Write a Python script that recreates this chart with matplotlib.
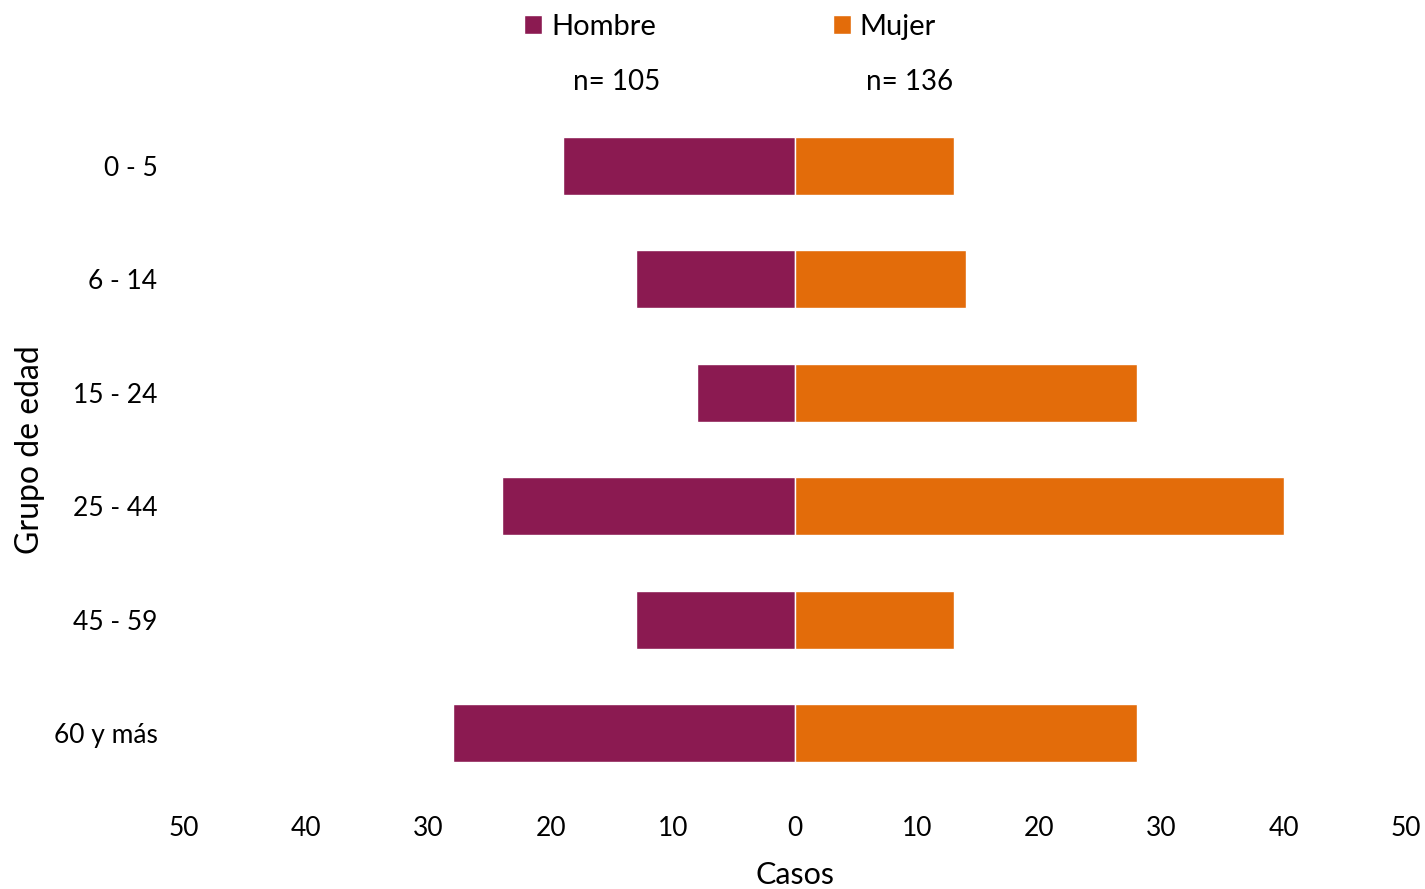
import matplotlib
matplotlib.use("Agg")
import matplotlib.pyplot as plt
from matplotlib.ticker import FuncFormatter

plt.rcParams['font.family'] = ['Lato', 'DejaVu Sans']

grupos = ["0 - 5", "6 - 14", "15 - 24", "25 - 44", "45 - 59", "60 y más"]
hombre = [19, 13, 8, 24, 13, 28]
mujer = [13, 14, 28, 40, 13, 28]
n_hombre = 105
n_mujer = 136
xticks = [-50, -40, -30, -20, -10, 0, 10, 20, 30, 40, 50]

c_h = "#8B1A51"
c_m = "#E36C0A"

fig = plt.figure(figsize=(14.25, 8.89), dpi=100)
ax = fig.add_axes([184/1425, 1-790/889, (1406-184)/1425, (790-109)/889])

y = list(range(len(grupos)))
bh = ax.barh(y, [-v for v in hombre], height=0.51, color=c_h, edgecolor="white", linewidth=1, label="Hombre")
bm = ax.barh(y, mujer, height=0.51, color=c_m, edgecolor="white", linewidth=1, label="Mujer")

ax.set_xlim(-50, 50)
ax.set_ylim(5.5, -0.5)
ax.set_yticks(y)
ax.set_yticklabels(grupos, fontsize=19)
ax.set_xticks(xticks)
ax.xaxis.set_major_formatter(FuncFormatter(lambda v, p: f"{abs(int(v))}"))
ax.tick_params(axis='x', labelsize=19, length=0, pad=19)
ax.tick_params(axis='y', length=0, pad=19)
for s in ax.spines.values():
    s.set_visible(False)

fig.text(795/1425, 1-875/889, "Casos", fontsize=22, ha='center', va='center')
fig.text(30/1425, 1-450/889, "Grupo de edad", rotation=90, fontsize=23,
         ha='center', va='center')

leg = fig.legend(handles=[bh, bm], labels=["Hombre", "Mujer"], ncol=2,
                 loc='center', bbox_to_anchor=(730/1425, 1-27/889),
                 frameon=False, fontsize=21, handlelength=0.62, handleheight=0.62,
                 handletextpad=0.3, columnspacing=6.05)

fig.text(617/1425, 1-82/889, f"n= {n_hombre}", fontsize=20, ha='center', va='center')
fig.text(910/1425, 1-82/889, f"n= {n_mujer}", fontsize=20, ha='center', va='center')

fig.savefig("out.png", dpi=100)
